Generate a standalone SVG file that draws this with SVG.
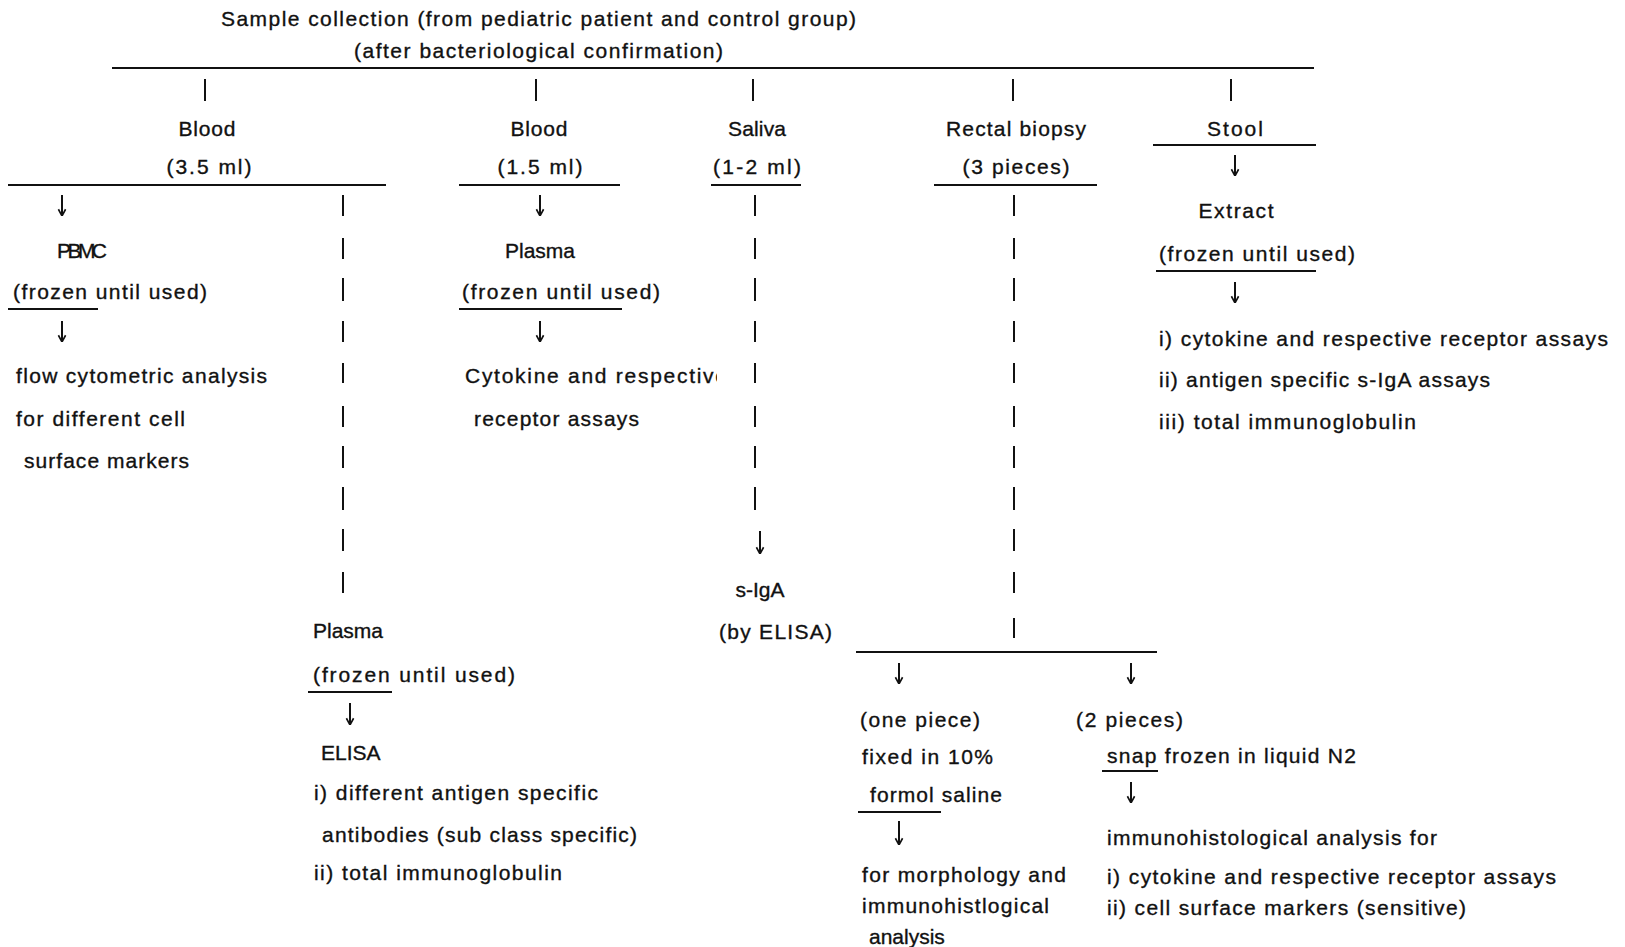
<svg xmlns="http://www.w3.org/2000/svg" width="1625" height="947" viewBox="0 0 1625 947">
<style>
text{font-family:"Liberation Sans",Arial,sans-serif;font-size:21px;fill:#111;stroke:#111;stroke-width:0.35}
.m{text-anchor:middle}
.ln{stroke:#111;stroke-width:2;fill:none}
.ar{stroke:#111;stroke-width:2;fill:none;marker-end:url(#ah)}
</style>
<defs>
<marker id="ah" viewBox="0 0 10 10" refX="9.5" refY="5" markerWidth="9" markerHeight="10" markerUnits="userSpaceOnUse" orient="auto">
<path d="M2,1 L9.5,5 L2,9" fill="none" stroke="#111" stroke-width="1.8"/>
</marker>
<clipPath id="cl"><rect x="0" y="350" width="717" height="50"/></clipPath>
</defs>
<rect width="1625" height="947" fill="#fff"/>
<g id="header">
<text x="221" y="26" textLength="635">Sample collection (from pediatric patient and control group)</text>
<text x="354" y="58" textLength="369">(after bacteriological confirmation)</text>
</g>
<g id="connectors">
<line class="ln" x1="112" y1="68" x2="1314" y2="68"/>
<path class="ln" d="M205,79V101M536,79V101M753,79V101M1013,79V101M1231,79V101"/>
<line class="ln" x1="8" y1="185" x2="386" y2="185"/>
<line class="ln" x1="459" y1="185" x2="620" y2="185"/>
<line class="ln" x1="711" y1="185" x2="801" y2="185"/>
<line class="ln" x1="934" y1="185" x2="1097" y2="185"/>
<line class="ln" x1="1153" y1="145" x2="1316" y2="145"/>
<line class="ln" x1="8" y1="309" x2="98" y2="309"/>
<line class="ln" x1="459" y1="309" x2="622" y2="309"/>
<line class="ln" x1="1156" y1="271" x2="1316" y2="271"/>
<line class="ln" x1="308" y1="692" x2="392" y2="692"/>
<line class="ln" x1="856" y1="652" x2="1157" y2="652"/>
<line class="ln" x1="858" y1="812" x2="941" y2="812"/>
<line class="ln" x1="1102" y1="771" x2="1158" y2="771"/>
<path class="ln" d="M343,195V216M343,238V259M343,278V301M343,321V342M343,363V383M343,406V427M343,446V468M343,487V510M343,529V551M343,572V593"/>
<path class="ln" d="M755,195V216M755,238V259M755,278V301M755,321V342M755,363V383M755,406V427M755,446V468M755,487V510"/>
<path class="ln" d="M1014,195V216M1014,238V259M1014,278V301M1014,321V342M1014,363V383M1014,406V427M1014,446V468M1014,487V510M1014,529V551M1014,572V593M1014,618V638"/>
<line class="ar" x1="62" y1="195" x2="62" y2="216"/>
<line class="ar" x1="62" y1="321" x2="62" y2="342"/>
<line class="ar" x1="540" y1="195" x2="540" y2="216"/>
<line class="ar" x1="540" y1="321" x2="540" y2="342"/>
<line class="ar" x1="760" y1="531" x2="760" y2="554"/>
<line class="ar" x1="1235" y1="155" x2="1235" y2="176"/>
<line class="ar" x1="1235" y1="282" x2="1235" y2="303"/>
<line class="ar" x1="899" y1="663" x2="899" y2="684"/>
<line class="ar" x1="1131" y1="663" x2="1131" y2="684"/>
<line class="ar" x1="899" y1="821" x2="899" y2="845"/>
<line class="ar" x1="1131" y1="782" x2="1131" y2="803"/>
<line class="ar" x1="350" y1="703" x2="350" y2="725"/>
</g>
<g id="blood1">
<text class="m" x="207" y="136" textLength="57">Blood</text>
<text class="m" x="209" y="174" textLength="85">(3.5 ml)</text>
</g>
<g id="pbmc">
<text class="m" x="82" y="258" textLength="50">PBMC</text>
<text x="13" y="299" textLength="194">(frozen until used)</text>
</g>
<g id="flow">
<text x="16" y="383" textLength="251">flow cytometric analysis</text>
<text x="16" y="426" textLength="169">for different cell</text>
<text x="24" y="468" textLength="165">surface markers</text>
</g>
<g id="plasma1">
<text x="313" y="638">Plasma</text>
<text x="313" y="682" textLength="202">(frozen until used)</text>
</g>
<g id="elisa1">
<text x="321" y="760">ELISA</text>
<text x="314" y="800" textLength="284">i) different antigen specific</text>
<text x="322" y="842" textLength="315">antibodies (sub class specific)</text>
<text x="314" y="880" textLength="248">ii) total immunoglobulin</text>
</g>
<g id="blood2">
<text class="m" x="539" y="136" textLength="57">Blood</text>
<text class="m" x="540" y="174" textLength="85">(1.5 ml)</text>
</g>
<g id="plasma2">
<text class="m" x="540" y="258">Plasma</text>
<text x="462" y="299" textLength="198">(frozen until used)</text>
</g>
<g id="cytokine2">
<text x="465" y="383" textLength="262" clip-path="url(#cl)">Cytokine and respective</text>
<text x="474" y="426" textLength="165">receptor assays</text>
</g>
<g id="saliva">
<text class="m" x="757" y="136" textLength="58">Saliva</text>
<text class="m" x="757" y="174" textLength="88">(1-2 ml)</text>
</g>
<g id="siga">
<text class="m" x="760" y="597">s-IgA</text>
<text x="719" y="639" textLength="113">(by ELISA)</text>
</g>
<g id="rectal">
<text class="m" x="1016" y="136" textLength="140">Rectal biopsy</text>
<text class="m" x="1016" y="174" textLength="107">(3 pieces)</text>
</g>
<g id="onepiece">
<text x="860" y="727" textLength="120">(one piece)</text>
<text x="862" y="764" textLength="131">fixed in 10%</text>
<text x="870" y="802" textLength="132">formol saline</text>
</g>
<g id="morphology">
<text x="862" y="882" textLength="204">for morphology and</text>
<text x="862" y="913" textLength="187">immunohistlogical</text>
<text x="869" y="944">analysis</text>
</g>
<g id="twopieces">
<text x="1076" y="727" textLength="107">(2 pieces)</text>
<text x="1107" y="763" textLength="249">snap frozen in liquid N2</text>
</g>
<g id="immuno">
<text x="1107" y="845" textLength="330">immunohistological analysis for</text>
<text x="1107" y="884" textLength="449">i) cytokine and respective receptor assays</text>
<text x="1107" y="915" textLength="359">ii) cell surface markers (sensitive)</text>
</g>
<g id="stool">
<text class="m" x="1235" y="136" textLength="56">Stool</text>
</g>
<g id="extract">
<text class="m" x="1236" y="218" textLength="75">Extract</text>
<text x="1159" y="261" textLength="196">(frozen until used)</text>
</g>
<g id="stoolassays">
<text x="1159" y="346" textLength="449">i) cytokine and respective receptor assays</text>
<text x="1159" y="387" textLength="331">ii) antigen specific s-IgA assays</text>
<text x="1159" y="429" textLength="257">iii) total immunoglobulin</text>
</g>
</svg>
